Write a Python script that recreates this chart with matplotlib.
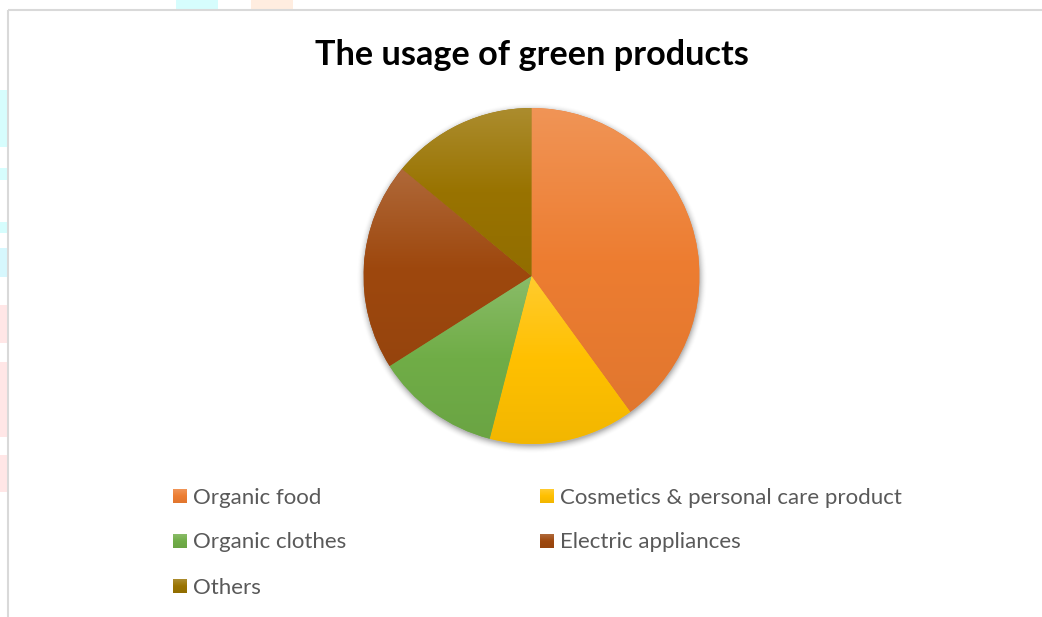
import numpy as np
import matplotlib.pyplot as plt
from matplotlib.colors import to_rgb
from matplotlib.patches import Rectangle

# Chart data
title = "The usage of green products"
categories = ["Organic food", "Cosmetics & personal care product",
              "Organic clothes", "Electric appliances", "Others"]
shares = [40, 14, 12, 20, 14]
colors = ["#ED7D31", "#FFC000", "#70AD47", "#9E480E", "#997300"]

W, H = 1042, 617
fig = plt.figure(figsize=(W / 100, H / 100), dpi=100)
fig.patch.set_facecolor("white")

# Overlay axes in pixel coordinates for frame, title and legend
ov = fig.add_axes([0, 0, 1, 1])
ov.set_xlim(0, W)
ov.set_ylim(H, 0)
ov.axis("off")


def gradient(base, n=256):
    """Vertical gradient: lighter tint at the top, slightly darker at the bottom."""
    b = np.array(to_rgb(base))
    top = b * 0.82 + 0.18
    bot = b * 0.95
    t = np.linspace(0, 1, n)[:, None]
    upper = top + (b - top) * np.clip(t / 0.5, 0, 1)
    lower = b + (bot - b) * np.clip((t - 0.5) / 0.5, 0, 1)
    g = np.where(t < 0.5, upper, lower)
    return g[:, None, :]


# Faint page decorations outside the chart frame
deco = [
    (176, 0, 42, 9, "#D6FDFD"), (251, 0, 42, 9, "#FFEDE0"),
    (0, 90, 7, 57, "#D6FDFD"), (0, 168, 7, 12, "#D6FDFD"),
    (0, 222, 7, 11, "#D6FDFD"), (0, 248, 7, 29, "#D6F7FD"),
    (0, 305, 7, 38, "#FFE6E6"), (0, 362, 7, 75, "#FFE6E6"),
    (0, 455, 7, 37, "#FFE6E6"),
]
for x, y, w, h, c in deco:
    ov.add_patch(Rectangle((x, y), w, h, facecolor=c, edgecolor="none", zorder=0))

# Chart frame (top and left edges visible)
ov.plot([7.5, 7.5], [H, 9.5], color="#D9D9D9", lw=1.5, solid_capstyle="butt", zorder=1)
ov.plot([7.5, W], [9.5, 9.5], color="#D9D9D9", lw=1.5, solid_capstyle="butt", zorder=1)

# Title
ov.text(532, 65, title, ha="center", va="baseline", fontsize=24.7,
        fontweight="bold", family="Lato", color="black")

# Pie axes: centre and radius in pixels
cx, cy, R = 531.5, 276, 168
lim = 1.2
hp = lim * R
ax = fig.add_axes([(cx - hp) / W, 1 - (cy + hp) / H, 2 * hp / W, 2 * hp / H])

wedges, _ = ax.pie(shares, colors=colors, startangle=90, counterclock=False,
                   radius=1, wedgeprops=dict(linewidth=0))

# Soft drop shadow around the pie
n = 600
xs = np.linspace(-lim, lim, n)
X, Y = np.meshgrid(xs, xs[::-1])
D = np.sqrt(X ** 2 + (Y + 0.012) ** 2)
alpha = 0.45 * np.clip(1 - (D - 0.995) / 0.05, 0, 1) ** 2
shadow = np.zeros((n, n, 4))
shadow[..., :3] = 0.35
shadow[..., 3] = alpha
ax.imshow(shadow, extent=[-lim, lim, -lim, lim], zorder=0.5, interpolation="bilinear")

# Gradient fill per slice, spanning each slice's own vertical extent
for w, c in zip(wedges, colors):
    ang = np.radians(np.linspace(w.theta1, w.theta2, 300))
    px = np.concatenate([[0], np.cos(ang)])
    py = np.concatenate([[0], np.sin(ang)])
    im = ax.imshow(gradient(c), extent=[px.min(), px.max(), py.min(), py.max()],
                   origin="upper", aspect="auto", interpolation="bilinear",
                   zorder=w.get_zorder() + 0.1)
    im.set_clip_path(w)

ax.set_xlim(-lim, lim)
ax.set_ylim(-lim, lim)
ax.set_aspect("auto")
ax.axis("off")

# Legend: two columns, three rows
col_x = [173, 540]
row_base = [503.5, 548.5, 593.5]
for i, (lab, c) in enumerate(zip(categories, colors)):
    r, col = divmod(i, 2)
    x0 = col_x[col]
    yb = row_base[r]
    ov.imshow(gradient(c, 32), extent=[x0, x0 + 13.5, yb, yb - 13.5],
              origin="upper", aspect="auto", zorder=3, interpolation="bilinear")
    ov.text(x0 + 20, yb, lab, ha="left", va="baseline", fontsize=16,
            family="Lato", color="#595959", zorder=3)

ov.set_xlim(0, W)
ov.set_ylim(H, 0)
ov.set_aspect("auto")

fig.savefig("out.png", dpi=100, facecolor="white")
